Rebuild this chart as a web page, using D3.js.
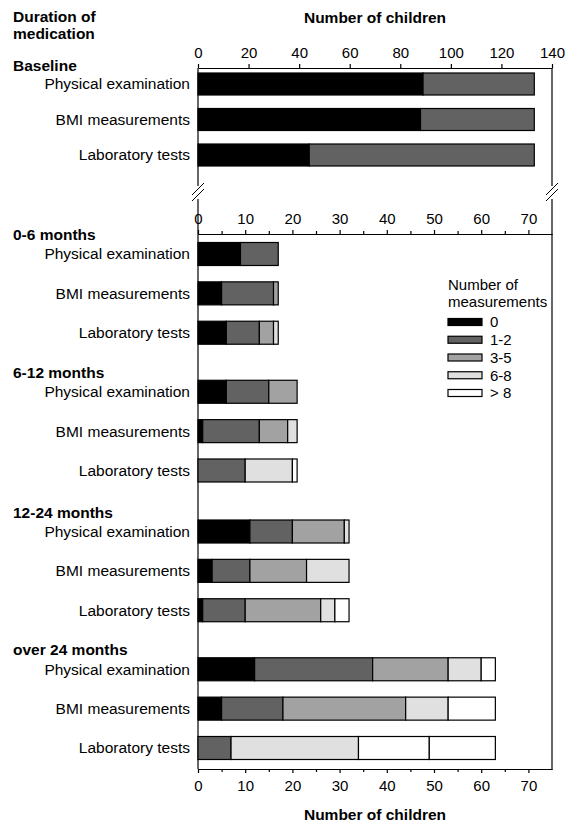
<!DOCTYPE html>
<html>
<head>
<meta charset="utf-8">
<script src="https://cdnjs.cloudflare.com/ajax/libs/d3/7.8.5/d3.min.js"></script>
<style>
    body { margin: 0; background: #fff; }
    text { font-family: Arial, "Liberation Sans", sans-serif; fill: #000; }
    .axis text { font-size: 15px; font-family: Arial, "Liberation Sans", sans-serif; }
    .axis path, .axis line { stroke: #000; stroke-width: 1.2; }
</style>
</head>
<body>
<div id="chart"></div>
<script>
// data
var series = ["0", "1-2", "3-5", "6-8", "> 8", ""];
var colors = ["#000000", "#626262", "#a2a2a2", "#e0e0e0", "#ffffff", "#ffffff"];
var measures = ["Physical examination", "BMI measurements", "Laboratory tests"];
var periods = ["0-6 months", "6-12 months", "12-24 months", "over 24 months"];
var topTicks = [0, 20, 40, 60, 80, 100, 120, 140];
var bottomTicks = [0, 10, 20, 30, 40, 50, 60, 70];
var minorTicks = [5, 15, 25, 35, 45, 55, 65];

var baseline = [[89, 44], [88, 45], [44, 89]];
var months0to6 = [[9, 8, 0, 0, 0, 0], [5, 11, 1, 0, 0, 0], [6, 7, 3, 1, 0, 0]];
var months6to12 = [[6, 9, 6, 0, 0, 0], [1, 12, 6, 2, 0, 0], [0, 10, 0, 10, 1, 0]];
var months12to24 = [[11, 9, 11, 1, 0, 0], [3, 8, 12, 9, 0, 0], [1, 9, 16, 3, 3, 0]];
var monthsOver24 = [[12, 25, 16, 7, 3, 0], [5, 13, 26, 9, 10, 0], [0, 7, 0, 27, 15, 14]];

var width = 566, height = 823;
var left = 198, right = 552;
var fs = "15.5px";

var svg = d3.select("#chart").append("svg")
    .attr("width", width)
    .attr("height", height);

svg.append("rect").attr("width", width).attr("height", height).attr("fill", "#fff");

var xTop = d3.scaleLinear().domain([0, 140]).range([left, right]);
var xBot = d3.scaleLinear().domain([0, 75]).range([left, right]);

// turn a row of counts into stacked segments
function segments(row) {
    var out = [], start = 0;
    row.forEach(function (v, i) {
        if (v > 0) out.push({x0: start, x1: start + v, i: i});
        start += v;
    });
    return out;
}

function drawBar(g, x, row, cy, h) {
    g.selectAll(null)
        .data(segments(row))
        .enter()
        .append("rect")
        .attr("x", function (d) { return x(d.x0); })
        .attr("width", function (d) { return x(d.x1) - x(d.x0); })
        .attr("y", cy - h / 2)
        .attr("height", h)
        .attr("fill", function (d) { return colors[d.i]; })
        .attr("stroke", "#000")
        .attr("stroke-width", 1.2);
}

function bold(x, y, txt, anchor) {
    svg.append("text").attr("x", x).attr("y", y)
        .attr("text-anchor", anchor || "start")
        .style("font-size", fs).style("font-weight", "bold").text(txt);
}

// titles
bold(13, 22, "Duration of");
bold(13, 39, "medication");
bold((left + right) / 2, 23, "Number of children", "middle");
bold((left + right) / 2, 820, "Number of children", "middle");

// top panel (baseline)
var topAxisY = 68;
svg.append("g").attr("class", "axis")
    .attr("transform", "translate(0," + topAxisY + ")")
    .call(d3.axisTop(xTop).tickValues(topTicks).tickSize(4).tickSizeOuter(0).tickPadding(6));

var topY = d3.scaleLinear().domain([0, 2]).range([84, 155]);

bold(13, 71, "Baseline");

var topBars = svg.append("g");
baseline.forEach(function (row, i) {
    drawBar(topBars, xTop, row, topY(i), 22);
    svg.append("text").attr("x", 190).attr("y", topY(i)).attr("dy", "0.35em")
        .attr("text-anchor", "end").style("font-size", fs).text(measures[i]);
});

// frame lines and axis breaks
var lines = [
    [left, topAxisY, left, 186], [right, topAxisY, right, 186],
    [left, 199, left, 769], [right, 199, right, 769]
];
lines.forEach(function (l) {
    svg.append("line").attr("x1", l[0]).attr("y1", l[1]).attr("x2", l[2]).attr("y2", l[3])
        .attr("stroke", "#000").attr("stroke-width", 1.2);
});
[left, right].forEach(function (bx) {
    [189, 195].forEach(function (by) {
        svg.append("line").attr("x1", bx - 6).attr("y1", by + 6).attr("x2", bx + 6).attr("y2", by - 6)
            .attr("stroke", "#000").attr("stroke-width", 1);
    });
});

// bottom panel axes
var midAxisY = 234, botAxisY = 769;
svg.append("g").attr("class", "axis")
    .attr("transform", "translate(0," + midAxisY + ")")
    .call(d3.axisTop(xBot).tickValues(bottomTicks).tickSize(4).tickSizeOuter(0).tickPadding(6));
svg.append("g").attr("class", "axis")
    .attr("transform", "translate(0," + midAxisY + ")")
    .call(d3.axisTop(xBot).tickValues(minorTicks).tickSize(3).tickSizeOuter(0).tickFormat(""));
svg.append("g").attr("class", "axis")
    .attr("transform", "translate(0," + botAxisY + ")")
    .call(d3.axisBottom(xBot).tickValues(bottomTicks).tickSize(4).tickSizeOuter(0).tickPadding(7));
svg.append("g").attr("class", "axis")
    .attr("transform", "translate(0," + botAxisY + ")")
    .call(d3.axisBottom(xBot).tickValues(minorTicks).tickSize(3).tickSizeOuter(0).tickFormat(""));

// bottom panel bars: slots of rows, groups separated by a gap
var groups = [months0to6, months6to12, months12to24, monthsOver24];
var groupStart = [0, 3.5, 7.05, 10.55];
var slotY = d3.scaleLinear().domain([0, 12.55]).range([254, 748]);

var botBars = svg.append("g");
groups.forEach(function (rows, g) {
    bold(13, slotY(groupStart[g]) - 14, periods[g]);
    rows.forEach(function (row, i) {
        var cy = slotY(groupStart[g] + i);
        drawBar(botBars, xBot, row, cy, 23);
        svg.append("text").attr("x", 190).attr("y", cy).attr("dy", "0.35em")
            .attr("text-anchor", "end").style("font-size", fs).text(measures[i]);
    });
});

// legend
var legend = svg.append("g").attr("transform", "translate(448,0)");
legend.append("text").attr("x", 0).attr("y", 290).style("font-size", "15px").text("Number of");
legend.append("text").attr("x", 0).attr("y", 307).style("font-size", "15px").text("measurements");
var legY = d3.scaleLinear().domain([0, 4]).range([322, 393]);
series.slice(0, 5).forEach(function (s, i) {
    legend.append("rect").attr("x", 0).attr("y", legY(i) - 3.5).attr("width", 34).attr("height", 7)
        .attr("fill", colors[i]).attr("stroke", "#000").attr("stroke-width", 1.2);
    legend.append("text").attr("x", 42).attr("y", legY(i)).attr("dy", "0.35em")
        .style("font-size", "15px").text(s);
});
</script>
</body>
</html>
